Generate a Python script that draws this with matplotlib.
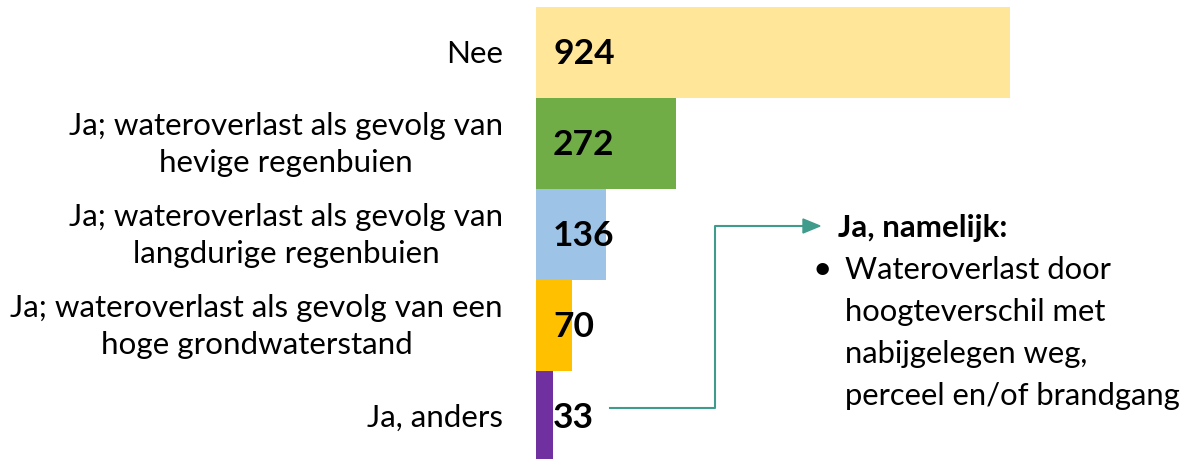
import matplotlib

matplotlib.use("Agg")
import matplotlib.pyplot as plt

categories = [
    "Nee",
    "Ja; wateroverlast als gevolg van\nhevige regenbuien",
    "Ja; wateroverlast als gevolg van\nlangdurige regenbuien",
    "Ja; wateroverlast als gevolg van een\nhoge grondwaterstand",
    "Ja, anders",
]
counts = [924, 272, 136, 70, 33]
colors = ["#FFE699", "#70AD47", "#9DC3E6", "#FFC000", "#7030A0"]

note_title = "Ja, namelijk:"
note_lines = ["Wateroverlast door", "hoogteverschil met",
              "nabijgelegen weg,", "perceel en/of brandgang"]

plt.rcParams["font.family"] = ["Lato", "DejaVu Sans"]

W, H = 1197, 460
fig = plt.figure(figsize=(W / 100, H / 100), dpi=100)


def fx(px):
    return px / W


def fy(py):
    return 1 - py / H


# assen in pixels: links 536, rechts 1010, boven 8, onder 463
ax = fig.add_axes([fx(536), fy(463), fx(1010 - 536), (463 - 8) / H])
y = range(len(categories))
ax.barh(y, counts, height=1.0, color=colors)
ax.set_xlim(0, max(counts))
ax.set_ylim(len(categories) - 0.5, -0.5)
ax.axis("off")

for i, (cat, val) in enumerate(zip(categories, counts)):
    ax.text(-0.07, i, cat, transform=ax.get_yaxis_transform(),
            ha="right", va="center", fontsize=22.6, linespacing=1.38,
            multialignment="center", color="#000000")
    ax.text(0.036, i, str(val), transform=ax.get_yaxis_transform(),
            ha="left", va="center", fontsize=25.5, fontweight="bold",
            color="#000000")

# verbindingslijn van "Ja, anders" naar de toelichting
teal = "#3F9B8B"
fig.add_artist(plt.Line2D([fx(610), fx(715), fx(715), fx(805)],
                          [fy(409), fy(409), fy(227), fy(227)],
                          color=teal, lw=1.5))
fig.add_artist(plt.Polygon([[fx(803), fy(220)], [fx(820), fy(227)],
                            [fx(803), fy(234)]], closed=True,
                           color=teal))

fig.text(fx(838), fy(228), note_title, fontsize=22.5, fontweight="bold",
         ha="left", va="center")
fig.text(fx(822), fy(270), "\u2022", fontsize=24, ha="center", va="center")
for k, line in enumerate(note_lines):
    fig.text(fx(845), fy(270 + 42 * k), line, fontsize=22.3,
             ha="left", va="center")

fig.savefig("out.png", dpi=100)
